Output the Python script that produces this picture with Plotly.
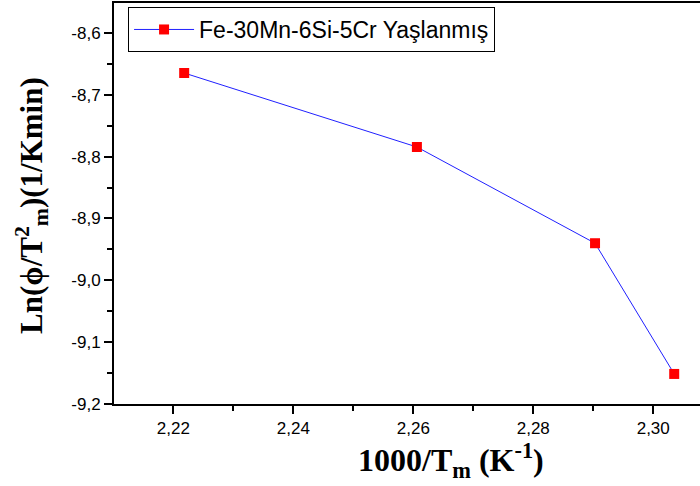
import plotly.graph_objects as go

# Peak-temperature Kissinger data for the aged alloy
inv_tm = [2.2218, 2.2606, 2.2903, 2.3035]          # 1000/Tm (K^-1)
ln_phi_tm2 = [-8.6647, -8.7844, -8.9400, -9.1514]   # Ln(phi/Tm^2)
series_name = "Fe-30Mn-6Si-5Cr Yaşlanmış"

x_ticks = [2.22, 2.24, 2.26, 2.28, 2.30]
x_labels = ["2,22", "2,24", "2,26", "2,28", "2,30"]
y_ticks = [-8.6, -8.7, -8.8, -8.9, -9.0, -9.1, -9.2]
y_labels = ["-8,6", "-8,7", "-8,8", "-8,9", "-9,0", "-9,1", "-9,2"]

fig = go.Figure()
fig.add_trace(go.Scatter(
    x=inv_tm, y=ln_phi_tm2, mode="lines+markers", name=series_name,
    line=dict(color="#2020ff", width=1),
    marker=dict(symbol="square", size=10, color="#ff0000"),
))

axis_common = dict(
    showline=True, linecolor="black", linewidth=2,
    ticks="outside", ticklen=8, tickwidth=2, tickcolor="black",
    showgrid=False, zeroline=False,
    tickfont=dict(family="Arial, Liberation Sans", size=17, color="black"),
)

fig.update_layout(
    width=700, height=486,
    margin=dict(l=114, r=0, t=3, b=82),
    paper_bgcolor="white", plot_bgcolor="white",
    showlegend=True,
    legend=dict(
        x=0.024, y=0.99, xanchor="left", yanchor="top",
        bordercolor="black", borderwidth=1, bgcolor="white",
        itemwidth=60,
        font=dict(family="Arial, Liberation Sans", size=23, color="black"),
    ),
    xaxis=dict(
        axis_common, range=[2.2101, 2.3078], tickvals=x_ticks, ticktext=x_labels,
        mirror=True,
        minor=dict(tickvals=[2.23, 2.25, 2.27, 2.29], ticks="outside", ticklen=5, tickwidth=2, tickcolor="black"),
    ),
    yaxis=dict(
        axis_common, range=[-9.2, -8.5515], tickvals=y_ticks, ticktext=y_labels,
        minor=dict(tickvals=[-8.65, -8.75, -8.85, -8.95, -9.05, -9.15], ticks="outside", ticklen=5, tickwidth=2, tickcolor="black"),
    ),
    annotations=[
        dict(text="<b>1000/T<sub>m</sub> (K<sup>-1</sup>)</b>",
             font=dict(family="Times New Roman, Liberation Serif", size=32, color="black"),
             xref="paper", yref="paper", x=0.575, y=-0.14,
             xanchor="center", yanchor="middle", showarrow=False),
        dict(text="<b>Ln(ϕ/T<sup>2</sup><sub>m</sub>)(1/Kmin)</b>",
             font=dict(family="Times New Roman, Liberation Serif", size=31, color="black"),
             xref="paper", yref="paper", x=-0.141, y=0.495, textangle=-90,
             xanchor="center", yanchor="middle", showarrow=False),
    ],
)

fig.write_html("out.html")
